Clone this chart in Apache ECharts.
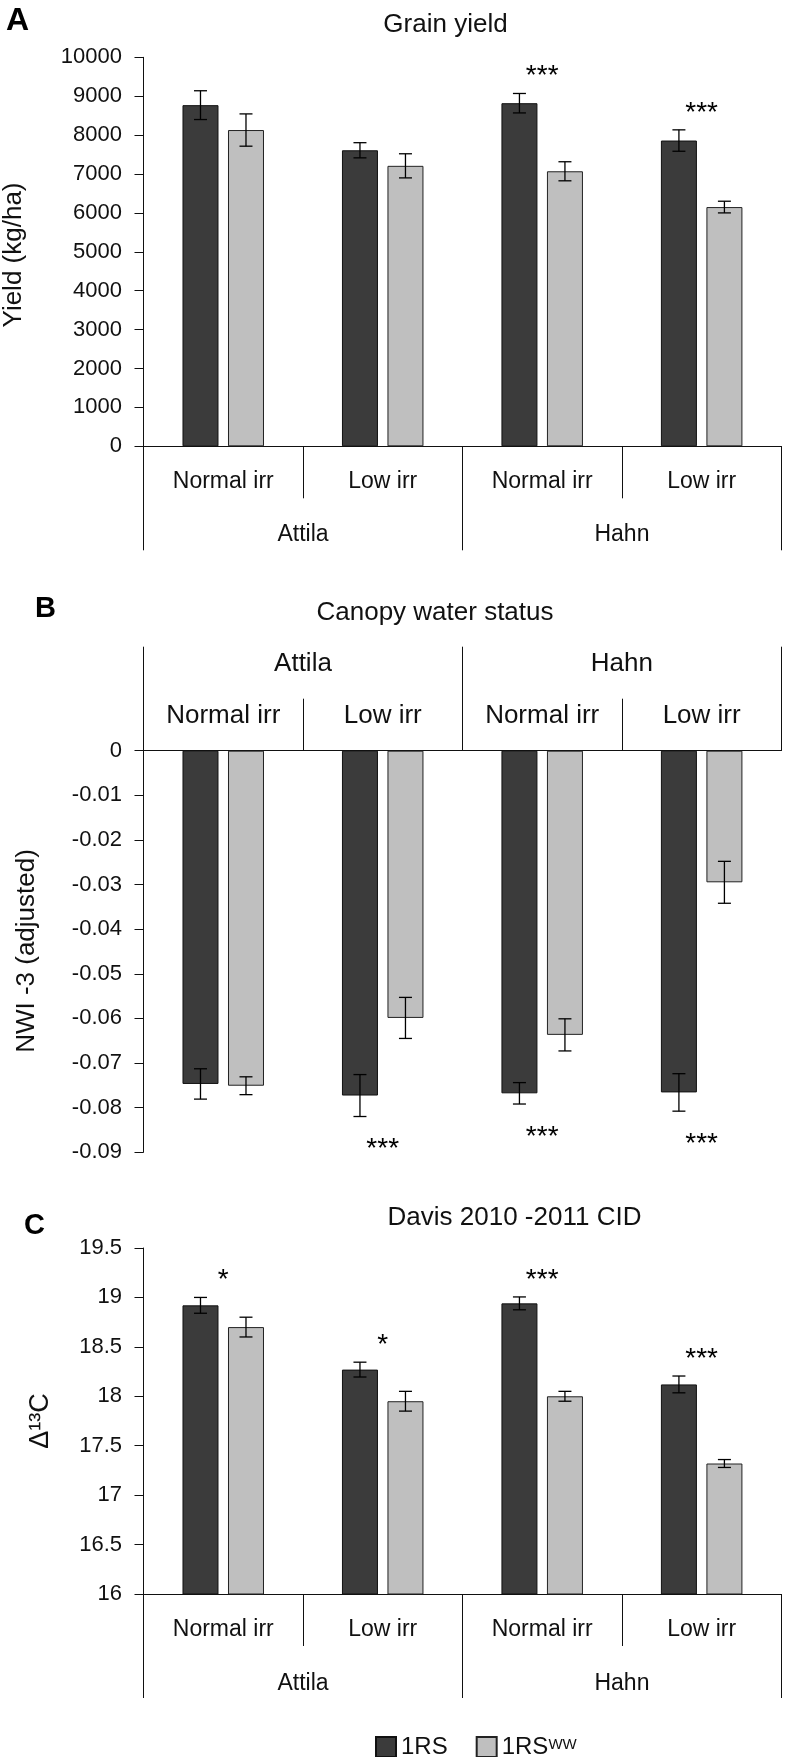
<!DOCTYPE html>
<html>
<head>
<meta charset="utf-8">
<script src="https://cdn.jsdelivr.net/npm/echarts@6/dist/echarts.min.js"></script>
<style>
html,body{margin:0;padding:0;background:#fff;}
#chart{width:786px;height:1757px;}
</style>
</head>
<body>
<div id="chart"></div>
<script>
// ---------- data ----------
const irrigation = ['Normal irr', 'Low irr', 'Normal irr', 'Low irr'];
const cultivars = ['Attila', 'Hahn'];
const seriesNames = ['1RS', '1RSWW'];

// A: Grain yield (kg/ha)
const yield1RS = [8770, 7610, 8820, 7860];
const yield1RSErr = [370, 195, 250, 275];
const yieldWW = [8130, 7210, 7070, 6150];
const yieldWWErr = [415, 310, 245, 150];
const yieldSig = ['', '', '***', '***'];
const yieldTicks = { min: 0, max: 10000, interval: 1000 };

// B: Canopy water status, NWI-3 (adjusted)
const nwi1RS = [-0.0747, -0.0773, -0.0768, -0.0766];
const nwi1RSErr = [0.0034, 0.0047, 0.0024, 0.0042];
const nwiWW = [-0.0751, -0.0599, -0.0637, -0.0295];
const nwiWWErr = [0.0020, 0.0046, 0.0036, 0.0047];
const nwiSig = ['', '***', '***', '***'];
const nwiTicks = { min: -0.09, max: 0, interval: 0.01 };

// C: Davis 2010-2011 CID, Δ13C
const cid1RS = [18.92, 18.27, 18.94, 18.12];
const cid1RSErr = [0.08, 0.075, 0.065, 0.085];
const cidWW = [18.70, 17.95, 18.00, 17.32];
const cidWWErr = [0.10, 0.10, 0.05, 0.04];
const cidSig = ['*', '*', '***', '***'];
const cidTicks = { min: 16, max: 19.5, interval: 0.5 };

// ---------- style ----------
const FONT = '"Liberation Sans", Arial, Helvetica, sans-serif';
const INK = '#111';
const DARK = '#3b3b3b';
const LIGHT = '#bfbfbf';
const BAR_W = 36;
const BAR_GAP_PX = 9.5;
const HALF = (BAR_W + BAR_GAP_PX) / 2;

const panels = [
  { top: 57.3, height: 389, pos: 'bottom', yt: yieldTicks, d1: yield1RS, e1: yield1RSErr, d2: yieldWW, e2: yieldWWErr, sig: yieldSig, above: true, lblFont: 23, m1: 24, m2: 77, fmt: v => String(v) },
  { top: 750.7, height: 401.5, pos: 'top', yt: nwiTicks, d1: nwi1RS, e1: nwi1RSErr, d2: nwiWW, e2: nwiWWErr, sig: nwiSig, above: false, lblFont: 26, m1: 21.5, m2: 73.5, fmt: v => (Math.abs(v) < 1e-9 ? '0' : v.toFixed(2)) },
  { top: 1248, height: 346, pos: 'bottom', yt: cidTicks, d1: cid1RS, e1: cid1RSErr, d2: cidWW, e2: cidWWErr, sig: cidSig, above: true, lblFont: 23, m1: 24.5, m2: 78, fmt: v => String(+v.toFixed(1)) }
];

const grid = [], xAxis = [], yAxis = [], series = [];

function errRender(offset) {
  return function (params, api) {
    const x = api.value(0), v = api.value(1), e = api.value(2);
    const hi = api.coord([x, v + e]);
    const lo = api.coord([x, v - e]);
    const cx = hi[0] + offset, hw = 6.5;
    const st = { stroke: '#000', lineWidth: 1.3 };
    return {
      type: 'group',
      children: [
        { type: 'line', shape: { x1: cx, y1: hi[1], x2: cx, y2: lo[1] }, style: st },
        { type: 'line', shape: { x1: cx - hw, y1: hi[1], x2: cx + hw, y2: hi[1] }, style: st },
        { type: 'line', shape: { x1: cx - hw, y1: lo[1], x2: cx + hw, y2: lo[1] }, style: st }
      ]
    };
  };
}

function sigRender(sig, above) {
  return function (params, api) {
    const txt = sig[params.dataIndex];
    if (!txt) return null;
    const x = api.value(0), v = api.value(1), e = api.value(2);
    const p = api.coord([x, above ? v + e : v - e]);
    const y = above ? p[1] - 17 : p[1] + 33;
    return {
      type: 'text',
      x: p[0], y: y,
      style: { text: txt, fontSize: 28, fontFamily: FONT, fill: '#000', align: 'center', verticalAlign: 'middle' }
    };
  };
}

panels.forEach((p, gi) => {
  grid.push({ left: 143.5, width: 637.9, top: p.top, height: p.height, containLabel: false, outerBoundsMode: 'none' });
  // inner category axis (irrigation)
  xAxis.push({
    type: 'category', gridIndex: gi, data: irrigation, position: p.pos,
    axisLine: { show: true, onZero: false, lineStyle: { color: INK, width: 1 } },
    axisTick: { show: true, alignWithLabel: false, interval: 0, length: 52, lineStyle: { color: INK, width: 1 } },
    axisLabel: { interval: 0, margin: p.m1, fontSize: p.lblFont, lineHeight: p.lblFont, color: INK, fontFamily: FONT },
    splitLine: { show: false }
  });
  // outer category axis (cultivar)
  xAxis.push({
    type: 'category', gridIndex: gi, data: cultivars, position: p.pos,
    axisLine: { show: false, onZero: false },
    axisTick: { show: true, alignWithLabel: false, interval: 0, length: 104, lineStyle: { color: INK, width: 1 } },
    axisLabel: { interval: 0, margin: p.m2, fontSize: p.lblFont, lineHeight: p.lblFont, color: INK, fontFamily: FONT },
    splitLine: { show: false }
  });
  yAxis.push({
    type: 'value', gridIndex: gi, min: p.yt.min, max: p.yt.max, interval: p.yt.interval,
    axisLine: { show: true, onZero: false, lineStyle: { color: INK, width: 1 } },
    axisTick: { show: true, length: 9, lineStyle: { color: INK, width: 1 } },
    axisLabel: { margin: 21.5, fontSize: 22, color: INK, fontFamily: FONT, formatter: p.fmt },
    splitLine: { show: false }
  });
  const xi = gi * 2;
  series.push({
    name: seriesNames[0], type: 'bar', xAxisIndex: xi, yAxisIndex: gi, data: p.d1,
    barWidth: BAR_W, barGap: (BAR_GAP_PX / BAR_W * 100) + '%',
    itemStyle: { color: DARK, borderColor: '#111', borderWidth: 1 }, silent: true, z: 2
  });
  series.push({
    name: seriesNames[1], type: 'bar', xAxisIndex: xi, yAxisIndex: gi, data: p.d2,
    barWidth: BAR_W, barGap: (BAR_GAP_PX / BAR_W * 100) + '%',
    itemStyle: { color: LIGHT, borderColor: '#222', borderWidth: 1 }, silent: true, z: 2
  });
  series.push({
    type: 'custom', xAxisIndex: xi, yAxisIndex: gi, z: 5, silent: true,
    renderItem: errRender(-HALF), encode: { x: 0, y: 1 },
    data: p.d1.map((v, i) => [i, v, p.e1[i]])
  });
  series.push({
    type: 'custom', xAxisIndex: xi, yAxisIndex: gi, z: 5, silent: true,
    renderItem: errRender(HALF), encode: { x: 0, y: 1 },
    data: p.d2.map((v, i) => [i, v, p.e2[i]])
  });
  series.push({
    type: 'custom', xAxisIndex: xi, yAxisIndex: gi, z: 6, silent: true, clip: false,
    renderItem: sigRender(p.sig, p.above), encode: { x: 0, y: 1 },
    data: p.d1.map((v, i) => [i, v, p.e1[i]])
  });
});

function txt(text, x, y, size, opts) {
  return Object.assign({
    type: 'text', x: x, y: y, silent: true,
    style: Object.assign({ text: text, fontSize: size, fontFamily: FONT, fill: INK, align: 'center', verticalAlign: 'middle' }, (opts && opts.style) || {})
  }, opts && opts.rotation !== undefined ? { rotation: opts.rotation } : {});
}

const graphic = [
  txt('A', 6, 21, 32, { style: { fontWeight: 'bold', align: 'left', fill: '#000' } }),
  txt('Grain yield', 445.5, 24.5, 26),
  txt('B', 35, 609, 29, { style: { fontWeight: 'bold', align: 'left', fill: '#000' } }),
  txt('Canopy water status', 435, 612.5, 26),
  txt('C', 24, 1226, 29, { style: { fontWeight: 'bold', align: 'left', fill: '#000' } }),
  txt('Davis 2010 -2011 CID', 514.5, 1217.5, 26),
  txt('Yield (kg/ha)', 14, 255, 26, { rotation: Math.PI / 2 }),
  txt('NWI -3 (adjusted)', 27, 951, 26, { rotation: Math.PI / 2 }),
  txt('Δ¹³C', 41, 1421, 27, { rotation: Math.PI / 2 })
];

const chart = echarts.init(document.getElementById('chart'), null, { renderer: 'canvas', width: 786, height: 1757 });
chart.setOption({
  animation: false,
  backgroundColor: '#fff',
  textStyle: { fontFamily: FONT },
  grid: grid,
  xAxis: xAxis,
  yAxis: yAxis,
  series: series,
  graphic: graphic,
  legend: {
    data: seriesNames, left: 370, top: 1728, orient: 'horizontal',
    icon: 'rect', itemWidth: 20, itemHeight: 20, itemGap: 28, selectedMode: false,
    formatter: function (name) { return name === '1RSWW' ? '1RS{sup|WW}' : name; },
    textStyle: {
      fontSize: 24, color: INK, fontFamily: FONT, lineHeight: 28,
      rich: { sup: { fontSize: 15, lineHeight: 15, verticalAlign: 'top', color: INK, fontFamily: FONT, padding: [4, 0, 0, 0] } }
    }
  }
});
</script>
</body>
</html>
